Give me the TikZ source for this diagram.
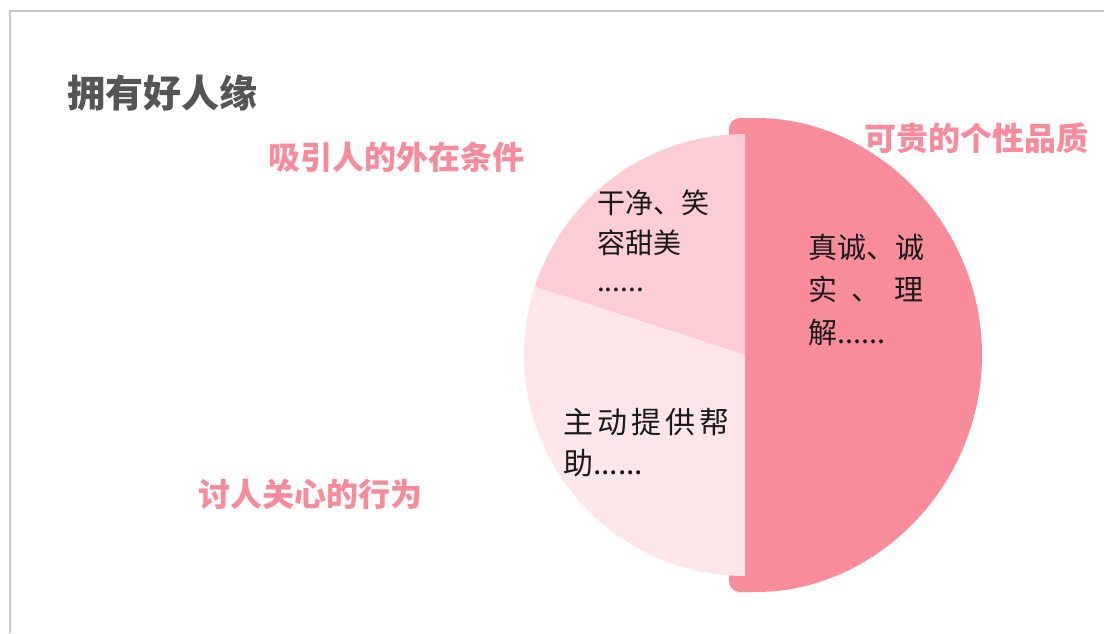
\documentclass[tikz,border=0pt]{standalone}
\usepackage{fontspec}
\newfontfamily\cjk{Noto Sans CJK SC}
\definecolor{framegray}{HTML}{C8C8C8}
\definecolor{titlegray}{HTML}{555555}
\definecolor{pinkdark}{HTML}{F98C9B}
\definecolor{pinkmid}{HTML}{FDCDD6}
\definecolor{pinklight}{HTML}{FDE6EA}
\definecolor{textpink}{HTML}{F78B9B}
\definecolor{bodyblack}{HTML}{1A1A1A}
\begin{document}
\begin{tikzpicture}[x=1pt,y=1pt,
  heading/.style={inner sep=0pt,anchor=west,font=\cjk\bfseries\fontsize{32}{32}\selectfont,text=textpink},
  body/.style={inner sep=0pt,anchor=base west,text=bodyblack}]
\useasboundingbox (0,0) rectangle (1104,633);
\fill[white] (0,0) rectangle (1104,633);
% frame
\draw[framegray,line width=2pt] (9.5,0) -- (9.5,622) -- (1104,622);
% pie
\coordinate (c) at (745,278);
\fill[pinkdark,rounded corners=11pt] (745,515) arc[start angle=90,end angle=-90,radius=237] -- (729,41) -- (729,515) -- cycle;
\fill[pinkmid] (c) -- ++(90:221) arc[start angle=90,end angle=162,radius=221] -- cycle;
\fill[pinklight] (c) -- ++(162:221) arc[start angle=162,end angle=270,radius=221] -- cycle;
% title
\node[inner sep=0pt,anchor=west,font=\cjk\bfseries\fontsize{38}{38}\selectfont,text=titlegray] (title) at (67,540) {拥有好人缘};
% headings
\node[heading] (h1) at (268,476) {吸引人的外在条件};
\node[heading] (h2) at (864,495) {可贵的个性品质};
\node[heading] (h3) at (198,139) {讨人关心的行为};
% slice texts
\node[body,font=\cjk\fontsize{28}{28}\selectfont] (a1) at (597,419.5) {干净、笑};
\node[body,font=\cjk\fontsize{28}{28}\selectfont] (a2) at (597,379.5) {容甜美};
\node[body,font=\cjk\fontsize{28}{28}\selectfont] (a3) at (597,341) {......};
\node[body,font=\cjk\fontsize{29}{29}\selectfont] (b1) at (808,374) {真诚、诚};
\node[body,font=\cjk\fontsize{29}{29}\selectfont] (b2) at (808,332) {\makebox[115pt][s]{实\hfill 、\hfill 理}};
\node[body,font=\cjk\fontsize{29}{29}\selectfont] (b3) at (808,290) {解......};
\node[body,font=\cjk\fontsize{30}{30}\selectfont] (d1) at (563,199.5) {主\hspace{4pt}动\hspace{4pt}提\hspace{4pt}供\hspace{4pt}帮};
\node[body,font=\cjk\fontsize{30}{30}\selectfont] (d2) at (563,158.5) {助......};
\end{tikzpicture}
\end{document}
